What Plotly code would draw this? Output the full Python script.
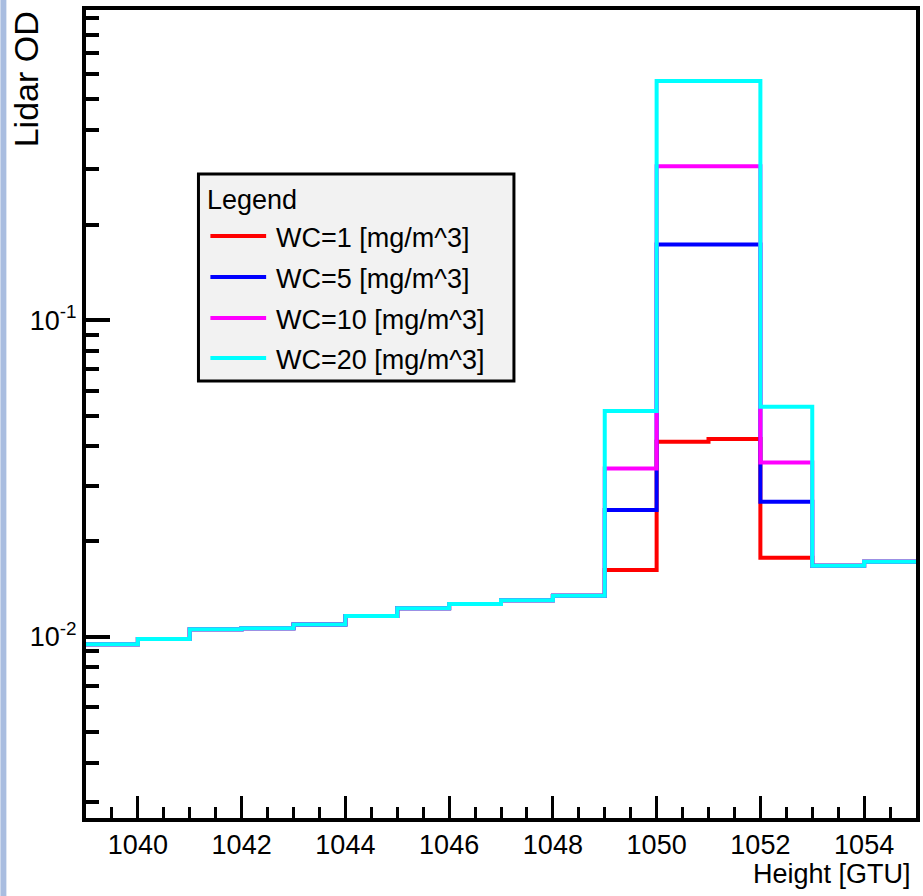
import plotly.graph_objects as go

# Histogram binning: unit-width bins in height (GTU)
bin_low_edges = [1039, 1040, 1041, 1042, 1043, 1044, 1045, 1046,
                 1047, 1048, 1049, 1050, 1051, 1052, 1053, 1054]
bin_width = 1

# Lidar optical depth per bin for each water content
od_wc1 = [0.00946, 0.00983, 0.01055, 0.01063, 0.01093, 0.01162, 0.01230, 0.01269,
          0.01303, 0.01347, 0.01626, 0.04133, 0.04217, 0.01777, 0.01677, 0.01726]
od_wc5 = [0.00946, 0.00983, 0.01055, 0.01063, 0.01093, 0.01162, 0.01230, 0.01269,
          0.01303, 0.01347, 0.02514, 0.1736, 0.1736, 0.02672, 0.01677, 0.01726]
od_wc10 = [0.00946, 0.00983, 0.01055, 0.01063, 0.01093, 0.01162, 0.01230, 0.01269,
           0.01303, 0.01347, 0.0340, 0.307, 0.307, 0.03557, 0.01677, 0.01726]
od_wc20 = [0.00946, 0.00983, 0.01055, 0.01063, 0.01093, 0.01162, 0.01230, 0.01269,
           0.01303, 0.01347, 0.0517, 0.571, 0.571, 0.0533, 0.01677, 0.01726]

series_names = ["WC=1 [mg/m^3]", "WC=5 [mg/m^3]", "WC=10 [mg/m^3]", "WC=20 [mg/m^3]"]
series_values = [od_wc1, od_wc5, od_wc10, od_wc20]
series_colors = ["#ff0000", "#0000ff", "#ff00ff", "#00ffff"]

x_tick_vals = [1040, 1042, 1044, 1046, 1048, 1050, 1052, 1054]
x_tick_text = ["1040", "1042", "1044", "1046", "1048", "1050", "1052", "1054"]
y_tick_vals = [0.01, 0.1]
y_tick_text = ["10<sup>-2</sup>", "10<sup>-1</sup>"]

FONT = "Liberation Sans, Arial, Helvetica, sans-serif"
FS = 27

fig = go.Figure()

# Step outlines: bin edges plus the closing edge, last content repeated
edges = bin_low_edges + [bin_low_edges[-1] + bin_width]
for name, vals, col in zip(series_names, series_values, series_colors):
    fig.add_trace(go.Scatter(
        x=edges, y=vals + [vals[-1]], name=name, mode="lines",
        line=dict(color=col, width=4, shape="hv"), showlegend=False,
        hoverinfo="skip"))

# Minor log ticks 2..9 per decade
y_minor = [k * 10.0 ** e for e in (-3, -2, -1) for k in range(2, 10)]

fig.update_xaxes(
    range=[1039, 1055], showgrid=False, zeroline=False,
    showline=True, linecolor="black", linewidth=4, mirror=True,
    ticks="inside", ticklen=22, tickwidth=3, tickcolor="black",
    tickvals=x_tick_vals, ticktext=x_tick_text,
    tickfont=dict(family=FONT, size=FS, color="black"),
    minor=dict(ticks="inside", ticklen=11, tickwidth=3, tickcolor="black", dtick=0.5,
               tick0=1039, showgrid=False),
)
fig.update_yaxes(
    type="log", range=[-2.573, -0.019], showgrid=False, zeroline=False,
    showline=True, linecolor="black", linewidth=4, mirror=True,
    ticks="inside", ticklen=24, tickwidth=4, tickcolor="black",
    tickvals=y_tick_vals, ticktext=y_tick_text,
    tickfont=dict(family=FONT, size=FS, color="black"),
    minor=dict(ticks="inside", ticklen=13, tickwidth=4, tickcolor="black",
               tickvals=y_minor, showgrid=False),
)

PW = 923 - 86 - 3
PH = 896 - 10 - 78


def px_x(p):
    return (p - 86) / PW


def px_y(p):
    return 1 - (p - 10) / PH


shapes = []
annotations = []

# Pale blue strip along the left edge of the canvas
shapes.append(dict(type="rect", xref="paper", yref="paper",
                   x0=px_x(0), x1=px_x(6), y0=px_y(896), y1=px_y(0),
                   fillcolor="#a9bde0", line=dict(width=0), layer="below"))

# Legend box
shapes.append(dict(type="rect", xref="paper", yref="paper",
                   x0=px_x(199), x1=px_x(516), y0=px_y(381), y1=px_y(174),
                   fillcolor="#f2f2f2", line=dict(color="black", width=3), layer="above"))
annotations.append(dict(text="Legend", xref="paper", yref="paper",
                        x=px_x(206), y=px_y(200), xanchor="left", yanchor="middle",
                        showarrow=False, font=dict(family=FONT, size=FS, color="black")))
entry_rows = [236, 277, 318, 358]
for name, col, row in zip(series_names, series_colors, entry_rows):
    shapes.append(dict(type="line", xref="paper", yref="paper",
                       x0=px_x(211), x1=px_x(267), y0=px_y(row), y1=px_y(row),
                       line=dict(color=col, width=4), layer="above"))
    annotations.append(dict(text=name, xref="paper", yref="paper",
                            x=px_x(275), y=px_y(row + 2), xanchor="left", yanchor="middle",
                            showarrow=False,
                            font=dict(family=FONT, size=FS, color="black")))

# Axis titles
annotations.append(dict(text="Height [GTU]", xref="paper", yref="paper",
                        x=px_x(917), y=px_y(874), xanchor="right", yanchor="middle",
                        showarrow=False, font=dict(family=FONT, size=FS, color="black")))
annotations.append(dict(text="Lidar OD", xref="paper", yref="paper",
                        x=px_x(26), y=px_y(9), xanchor="center", yanchor="top",
                        textangle=-90, showarrow=False,
                        font=dict(family=FONT, size=34, color="black")))

fig.update_layout(
    width=923, height=896,
    margin=dict(l=86, r=3, t=10, b=78, pad=0),
    paper_bgcolor="white", plot_bgcolor="white",
    shapes=shapes, annotations=annotations, showlegend=False,
)

fig.write_html("out.html")
